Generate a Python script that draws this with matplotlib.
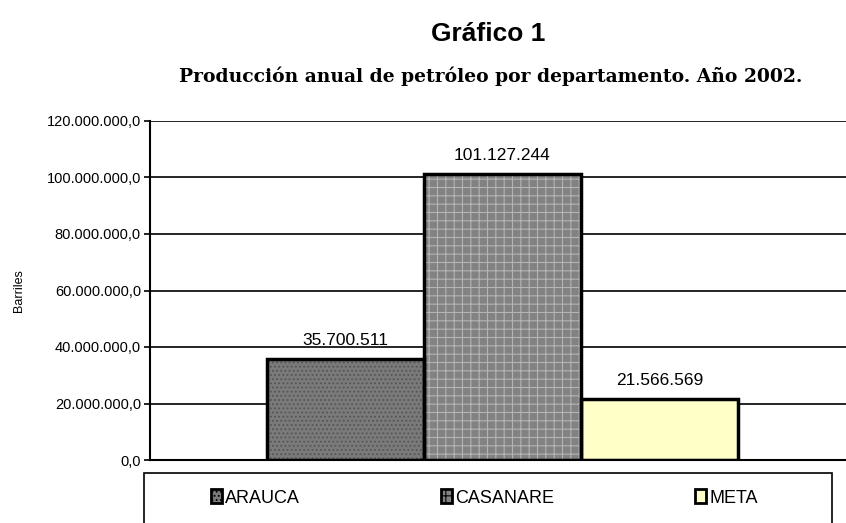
import matplotlib.pyplot as plt
from matplotlib.patches import Patch, Rectangle
from matplotlib.ticker import FuncFormatter

departamentos = ["ARAUCA", "CASANARE", "META"]
barriles = [35700511, 101127244, 21566569]
etiquetas = ["35.700.511", "101.127.244", "21.566.569"]
y_ticks = [0, 20000000, 40000000, 60000000, 80000000, 100000000, 120000000]

colores = ["#7a7a7a", "#828282", "#ffffc8"]
tramas = ["....", "++", None]
color_trama = ["#555555", "#b4b4b4", "#ffffc8"]

plt.rcParams['font.family'] = ['Liberation Sans', 'DejaVu Sans']
plt.rcParams['hatch.linewidth'] = 0.8


def fmt_miles(v, pos):
    s = "{:,.1f}".format(v)
    return s.replace(",", "X").replace(".", ",").replace("X", ".")


W, H = 846, 523
fig = plt.figure(figsize=(W / 100, H / 100), dpi=100)
ax = fig.add_axes([150 / W, 1 - 460 / H, 1 - 150 / W, (460 - 121) / H])

x = list(range(len(departamentos)))
# relleno con trama, luego el borde negro encima
for i in x:
    ax.bar(i, barriles[i], width=1.0, color=colores[i], hatch=tramas[i],
           edgecolor=color_trama[i], linewidth=0, zorder=2)
ax.bar(x, barriles, width=1.0, facecolor="none", edgecolor="black",
       linewidth=2.5, zorder=3)

for i in x:
    ax.annotate(etiquetas[i], (i, barriles[i]), xytext=(0, 8),
                textcoords="offset points", ha="center", va="bottom",
                fontsize=12.5, color="black")

ax.set_ylim(0, 120000000)
ax.set_xlim(-1.243, 3.186)
ax.set_yticks(y_ticks)
ax.yaxis.set_major_formatter(FuncFormatter(fmt_miles))
ax.set_xticks([])
ax.tick_params(axis="y", labelsize=10.5, direction="out", length=4,
               width=1.2, pad=2.5)
ax.grid(axis="y", color="black", linewidth=1.2, zorder=0)
ax.set_axisbelow(True)
for s in ["top", "right"]:
    ax.spines[s].set_visible(False)
ax.spines["left"].set_linewidth(1.5)
ax.spines["bottom"].set_linewidth(1.5)
ax.set_ylabel("Barriles", fontsize=9)
ax.yaxis.set_label_coords(-0.18, 0.5)

fig.text(488 / W, 1 - 41 / H, "Gráfico 1", ha="center", va="baseline",
         fontsize=19, fontweight="bold")
fig.text(491 / W, 1 - 82 / H,
         "Producción anual de petróleo por departamento. Año 2002.",
         ha="center", va="baseline", fontsize=13.5, fontweight="bold",
         family=["DejaVu Serif"])

# marco de la leyenda (se sale por abajo como en el original)
fig.patches.append(Rectangle((144 / W, -0.05), (832 - 144) / W, 0.05 + 1 - 473 / H,
                             transform=fig.transFigure, facecolor="white",
                             edgecolor="black", linewidth=1.2))

handles = [Patch(facecolor=colores[i], hatch=tramas[i], edgecolor="black",
                 linewidth=2) for i in x]
leg = fig.legend(handles, departamentos, loc="center left", ncol=3,
                 bbox_to_anchor=(211 / W, 1 - 498 / H), frameon=False,
                 fontsize=13, handlelength=0.6, handleheight=0.8,
                 handletextpad=0.2, columnspacing=7.8, borderpad=0,
                 borderaxespad=0)

fig.savefig("out.png", dpi=100)
